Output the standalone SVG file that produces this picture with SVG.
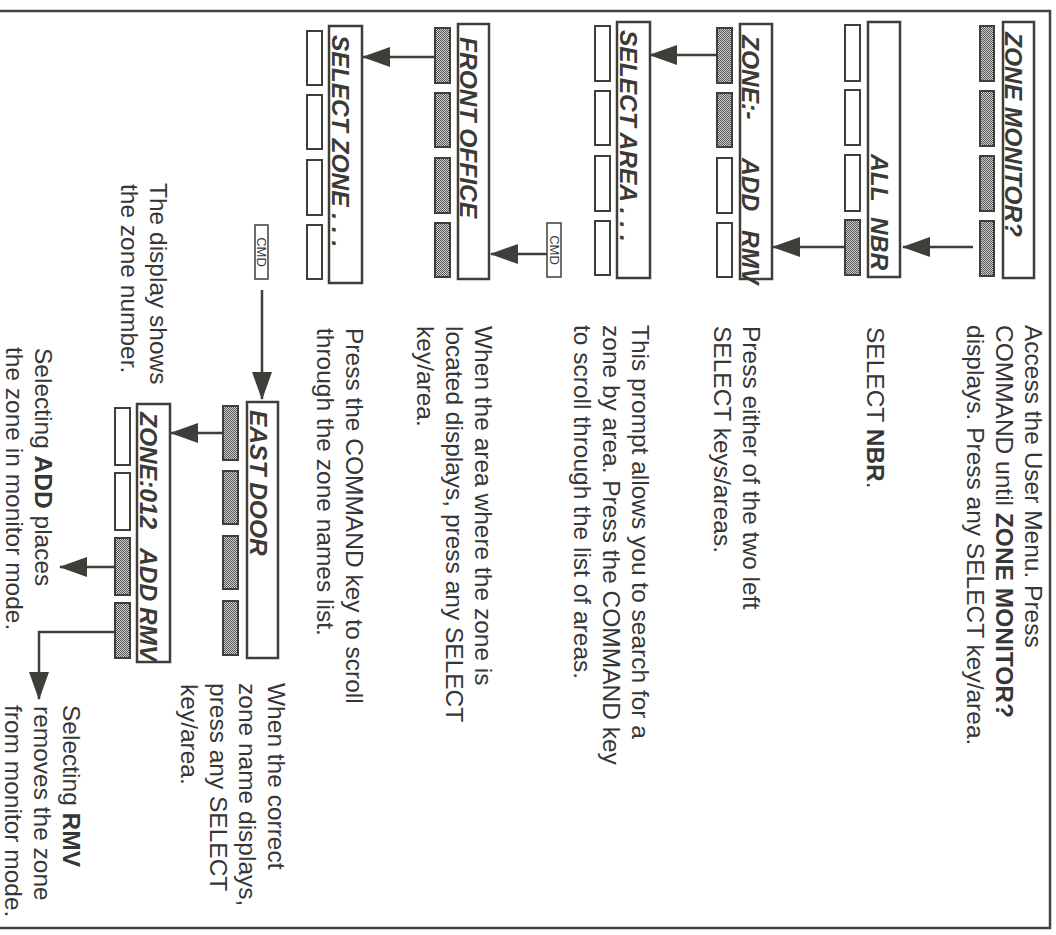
<svg xmlns="http://www.w3.org/2000/svg" width="1056" height="935" viewBox="0 0 1056 935">
<style>
.box{fill:#fff;stroke:#3f3f3a;stroke-width:2.5}
.key{stroke:#3f3f3a;stroke-width:2}
.kw{fill:#fff}
.kg{fill:url(#dots)}
.disp{font-family:"Liberation Sans",Arial,sans-serif;font-size:24.5px;font-weight:bold;font-style:italic;fill:#3a3a36}
.note{font-family:"Liberation Sans",Arial,sans-serif;font-size:24.5px;fill:#363636}
.b{font-weight:bold}
.cmd{font-family:"Liberation Sans",Arial,sans-serif;font-size:13px;fill:#3a3a36;text-anchor:middle}
.con{fill:none;stroke:#3f3f3a;stroke-width:2.5}
</style>
<defs>
<pattern id="dots" width="2" height="2" patternUnits="userSpaceOnUse">
<rect width="2" height="2" fill="#d0d0d0"/>
<rect width="1" height="1" fill="#555"/>
<rect x="1" y="1" width="1" height="1" fill="#555"/>
</pattern>
<marker id="ah" markerUnits="userSpaceOnUse" markerWidth="28" markerHeight="20" refX="27" refY="10" orient="auto">
<path d="M0,0 L28,10 L0,20 Z" fill="#3f3f3a"/>
</marker>
</defs>
<rect width="1056" height="935" fill="#fff"/>
<path d="M0,11 H1050 V928 H0" fill="none" stroke="#44443f" stroke-width="2.5"/>

<g id="zone-monitor">
<rect class="box" x="1003" y="22" width="31" height="256"/>
<text class="disp" transform="translate(1005,32) rotate(90)">ZONE MONITOR?</text>
<rect class="key kg" x="980" y="26" width="14" height="55"/>
<rect class="key kg" x="980" y="91" width="14" height="55"/>
<rect class="key kg" x="980" y="156" width="14" height="55"/>
<rect class="key kg" x="980" y="221" width="14" height="55"/>
</g>

<g id="all-nbr">
<rect class="box" x="868" y="22" width="32" height="255"/>
<text class="disp" transform="translate(871,154) rotate(90)">ALL</text>
<text class="disp" transform="translate(871,217) rotate(90)">NBR</text>
<rect class="key kw" x="845" y="25" width="15" height="56"/>
<rect class="key kw" x="845" y="90" width="15" height="55"/>
<rect class="key kw" x="845" y="155" width="15" height="56"/>
<rect class="key kg" x="845" y="220" width="15" height="55"/>
</g>

<g id="zone-add-rmv">
<rect class="box" x="740" y="24" width="32" height="255"/>
<text class="disp" transform="translate(742,35) rotate(90)">ZONE:-</text>
<text class="disp" transform="translate(742,158) rotate(90)">ADD</text>
<text class="disp" transform="translate(742,230) rotate(90)">RMV</text>
<rect class="key kg" x="717" y="28" width="15" height="55"/>
<rect class="key kg" x="717" y="93" width="15" height="54"/>
<rect class="key kw" x="717" y="158" width="15" height="55"/>
<rect class="key kw" x="717" y="223" width="15" height="54"/>
</g>

<g id="select-area">
<rect class="box" x="617" y="22" width="33" height="256"/>
<text class="disp" transform="translate(620,30) rotate(90)">SELECT AREA . . .</text>
<rect class="key kw" x="595" y="26" width="15" height="55"/>
<rect class="key kw" x="595" y="91" width="15" height="54"/>
<rect class="key kw" x="595" y="156" width="15" height="55"/>
<rect class="key kw" x="595" y="221" width="15" height="54"/>
</g>

<g id="cmd-1">
<rect x="547" y="223" width="14" height="54" fill="#fff" stroke="#3f3f3a" stroke-width="1.5"/>
<text class="cmd" transform="translate(549.5,250) rotate(90)">CMD</text>
</g>

<g id="front-office">
<rect class="box" x="458" y="24" width="31" height="255"/>
<text class="disp" transform="translate(460,37) rotate(90)">FRONT OFFICE</text>
<rect class="key kg" x="435" y="28" width="15" height="55"/>
<rect class="key kg" x="435" y="93" width="15" height="54"/>
<rect class="key kg" x="435" y="158" width="15" height="55"/>
<rect class="key kg" x="435" y="223" width="15" height="54"/>
</g>

<g id="select-zone">
<rect class="box" x="329" y="26" width="33" height="257"/>
<text class="disp" transform="translate(332,35) rotate(90)">SELECT ZONE . . .</text>
<rect class="key kw" x="307" y="31" width="15" height="54"/>
<rect class="key kw" x="307" y="95" width="15" height="54"/>
<rect class="key kw" x="307" y="160" width="15" height="55"/>
<rect class="key kw" x="307" y="225" width="15" height="54"/>
</g>

<g id="cmd-2">
<rect x="255" y="225" width="13" height="54" fill="#fff" stroke="#3f3f3a" stroke-width="1.5"/>
<text class="cmd" transform="translate(257,252) rotate(90)">CMD</text>
</g>

<g id="east-door">
<rect class="box" x="247" y="402" width="31" height="256"/>
<text class="disp" transform="translate(250,410) rotate(90)">EAST DOOR</text>
<rect class="key kg" x="223" y="406" width="15" height="54"/>
<rect class="key kg" x="223" y="471" width="15" height="53"/>
<rect class="key kg" x="223" y="536" width="15" height="53"/>
<rect class="key kg" x="223" y="601" width="15" height="54"/>
</g>

<g id="zone-012">
<rect class="box" x="137" y="404" width="33" height="258"/>
<text class="disp" transform="translate(140,412) rotate(90)">ZONE:012</text>
<text class="disp" transform="translate(140,548) rotate(90)">ADD</text>
<text class="disp" transform="translate(140,607) rotate(90)">RMV</text>
<rect class="key kw" x="115" y="408" width="15" height="57"/>
<rect class="key kw" x="115" y="473" width="15" height="57"/>
<rect class="key kg" x="115" y="538" width="15" height="57"/>
<rect class="key kg" x="115" y="603" width="15" height="55"/>
</g>

<g id="connectors">
<path class="con" d="M973,247 H903" marker-end="url(#ah)"/>
<path class="con" d="M845,247 H773" marker-end="url(#ah)"/>
<path class="con" d="M717,55 H650" marker-end="url(#ah)"/>
<path class="con" d="M547,254 H491" marker-end="url(#ah)"/>
<path class="con" d="M435,57 H363" marker-end="url(#ah)"/>
<path class="con" d="M262,290 V399" stroke-width="2" marker-end="url(#ah)"/>
<path class="con" d="M223,433 H171" marker-end="url(#ah)"/>
<path class="con" d="M115,567 H60" marker-end="url(#ah)"/>
<path class="con" d="M115,632 H39 V699" stroke-width="2" marker-end="url(#ah)"/>
</g>

<g id="notes">
<text class="note" transform="translate(1025,325) rotate(90)">Access the User Menu. Press</text>
<text class="note" transform="translate(996,325) rotate(90)">COMMAND until <tspan class="b">ZONE MONITOR?</tspan></text>
<text class="note" transform="translate(967,325) rotate(90)">displays. Press any SELECT key/area.</text>
<text class="note" transform="translate(867,327) rotate(90)">SELECT <tspan class="b">NBR</tspan>.</text>
<text class="note" transform="translate(743,326) rotate(90)">Press either of the two left</text>
<text class="note" transform="translate(714,326) rotate(90)">SELECT keys/areas.</text>
<text class="note" transform="translate(632,325) rotate(90)">This prompt allows you to search for a</text>
<text class="note" transform="translate(603,325) rotate(90)">zone by area. Press the COMMAND key</text>
<text class="note" transform="translate(574,325) rotate(90)">to scroll through the list of areas.</text>
<text class="note" transform="translate(475,326) rotate(90)">When the area where the zone is</text>
<text class="note" transform="translate(446,326) rotate(90)">located displays, press any SELECT</text>
<text class="note" transform="translate(417,326) rotate(90)">key/area.</text>
<text class="note" transform="translate(346,328) rotate(90)">Press the COMMAND key to scroll</text>
<text class="note" transform="translate(317,328) rotate(90)">through the zone names list.</text>
<text class="note" transform="translate(150,183) rotate(90)">The display shows</text>
<text class="note" transform="translate(121,184) rotate(90)">the zone number.</text>
<text class="note" transform="translate(35,348) rotate(90)">Selecting <tspan class="b">ADD</tspan> places</text>
<text class="note" transform="translate(6,347) rotate(90)">the zone in monitor mode.</text>
<text class="note" transform="translate(268,683) rotate(90)">When the correct</text>
<text class="note" transform="translate(239,683) rotate(90)">zone name displays,</text>
<text class="note" transform="translate(210,683) rotate(90)">press any SELECT</text>
<text class="note" transform="translate(181,684) rotate(90)">key/area.</text>
<text class="note" transform="translate(63,705) rotate(90)">Selecting <tspan class="b">RMV</tspan></text>
<text class="note" transform="translate(34,706) rotate(90)">removes the zone</text>
<text class="note" transform="translate(5,705) rotate(90)">from monitor mode.</text>
</g>
</svg>
